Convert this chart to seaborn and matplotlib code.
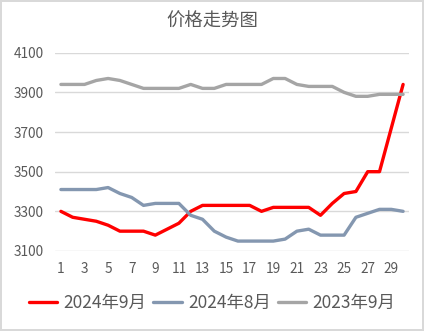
import matplotlib
matplotlib.use("Agg")
import matplotlib.pyplot as plt
import seaborn as sns
import pandas as pd
import numpy as np

days = list(range(1, 31))
series_names = ["2024年9月", "2024年8月", "2023年9月"]
sep_2024 = [3300, 3270, 3260, 3250, 3230, 3200, 3200, 3200, 3180, 3210,
            3240, 3300, 3330, 3330, 3330, 3330, 3330, 3300, 3320, 3320,
            3320, 3320, 3280, 3340, 3390, 3400, 3500, 3500, 3720, 3940]
aug_2024 = [3410, 3410, 3410, 3410, 3420, 3390, 3370, 3330, 3340, 3340,
            3340, 3280, 3260, 3200, 3170, 3150, 3150, 3150, 3150, 3160,
            3200, 3210, 3180, 3180, 3180, 3270, 3290, 3310, 3310, 3300]
sep_2023 = [3940, 3940, 3940, 3960, 3970, 3960, 3940, 3920, 3920, 3920,
            3920, 3940, 3920, 3920, 3940, 3940, 3940, 3940, 3970, 3970,
            3940, 3930, 3930, 3930, 3900, 3880, 3880, 3890, 3890, 3890]
yticks = [3100, 3300, 3500, 3700, 3900, 4100]
xticks = list(range(1, 30, 2))
colors = ["#FF0000", "#8497B0", "#A5A5A5"]

df = pd.DataFrame({
    "day": days * 3,
    "price": sep_2024 + aug_2024 + sep_2023,
    "series": sum([[n] * len(days) for n in series_names], []),
})

sns.set_theme(style="white")
plt.rcParams["font.family"] = ["Noto Sans CJK SC", "DejaVu Sans"]

fig = plt.figure(figsize=(4.24, 3.31), dpi=100)
fig.patch.set_facecolor("white")
fig.patch.set_edgecolor("#D9D9D9")
fig.patch.set_linewidth(1.5)
ax = fig.add_axes([55 / 424, 1 - 251 / 331, (409 - 55) / 424, (251 - 52.7) / 331])

sns.lineplot(data=df, x="day", y="price", hue="series", hue_order=series_names,
             palette=colors, linewidth=2.4, ax=ax, legend=False)

ax.set_xlim(0.5, 30.5)
ax.set_ylim(3100, 4100)
ax.set_yticks(yticks)
ax.set_xticks(xticks)
ax.set_xticklabels([str(x) for x in xticks])
ax.yaxis.grid(True, color="#D9D9D9", linewidth=1)
ax.xaxis.grid(False)
for s in ax.spines.values():
    s.set_visible(False)
ax.tick_params(axis="both", length=0, labelsize=9.8, labelcolor="#595959")
ax.tick_params(axis="y", pad=8)
ax.tick_params(axis="x", pad=8)
ax.set_xlabel("")
ax.set_ylabel("")

fig.text(0.5, 1 - 22 / 331, "价格走势图", ha="center", va="center",
         fontsize=13.2, color="#595959")

handles = [plt.Line2D([], [], color=c, linewidth=2.4) for c in colors]
fig.legend(handles, series_names, loc="center", bbox_to_anchor=(0.5, 1 - 303 / 331),
           ncol=3, frameon=False, fontsize=12.5, labelcolor="#595959",
           handlelength=1.65, handletextpad=0.35, columnspacing=0.4)

fig.savefig("out.png", dpi=100)
